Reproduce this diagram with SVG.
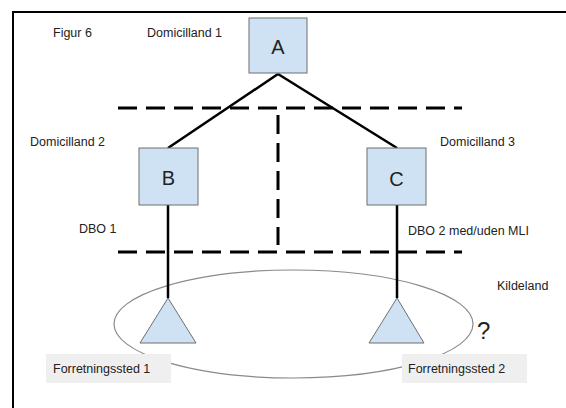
<svg xmlns="http://www.w3.org/2000/svg" width="566" height="408" viewBox="0 0 566 408">
  <style>
    .lbl { font-family: "Liberation Sans", Arial, sans-serif; font-size: 12.5px; fill: #222; }
    .big { font-family: "Liberation Sans", Arial, sans-serif; font-size: 20px; fill: #222; text-anchor: middle; }
    .box { fill: #cfe2f3; stroke: #6f6f6f; stroke-width: 1; }
    .tag { fill: #efefef; stroke: none; }
    .edge { stroke: #000; stroke-width: 2.5; fill: none; }
    .dash { stroke: #000; stroke-width: 3; fill: none; stroke-dasharray: 19 9; }
  </style>
  <rect width="566" height="408" fill="#fff"/>
  <!-- frame (top and left edges) -->
  <path d="M566 12 H13 V408" stroke="#000" stroke-width="2" fill="none"/>

  <!-- source country region -->
  <ellipse cx="293.5" cy="324" rx="179.5" ry="54" fill="none" stroke="#8a8a8a" stroke-width="1.2"/>

  <g id="connectors">
    <path class="edge" d="M278 74 L168 148"/>
    <path class="edge" d="M278 74 L397 148"/>
    <path class="edge" d="M168 205 V298"/>
    <path class="edge" d="M397 205 V298"/>
    <path class="dash" d="M118 108 H462"/>
    <path class="dash" d="M278 115 V245"/>
    <path class="dash" d="M118 252 H462"/>
  </g>

  <g id="nodeA">
    <rect class="box" x="249" y="18" width="58" height="55"/>
    <text class="big" x="278" y="54">A</text>
  </g>
  <g id="nodeB">
    <rect class="box" x="139" y="148" width="59" height="57"/>
    <text class="big" x="168.5" y="185">B</text>
  </g>
  <g id="nodeC">
    <rect class="box" x="367" y="148" width="59" height="57"/>
    <text class="big" x="396.5" y="186">C</text>
  </g>
  <g id="site1">
    <polygon class="box" points="168,298 196,343 140,343"/>
  </g>
  <g id="site2">
    <polygon class="box" points="397,298 424,343 369,343"/>
  </g>

  <g id="tag1">
    <rect class="tag" x="46" y="354" width="125" height="29"/>
    <text class="lbl" x="53" y="373">Forretningssted 1</text>
  </g>
  <g id="tag2">
    <rect class="tag" x="402" y="354" width="125" height="29"/>
    <text class="lbl" x="408" y="373">Forretningssted 2</text>
  </g>

  <g id="labels">
    <text class="lbl" x="53" y="37">Figur 6</text>
    <text class="lbl" x="147" y="37">Domicilland 1</text>
    <text class="lbl" x="30" y="146">Domicilland 2</text>
    <text class="lbl" x="440" y="146">Domicilland 3</text>
    <text class="lbl" x="79" y="233">DBO 1</text>
    <text class="lbl" x="408" y="235">DBO 2 med/uden MLI</text>
    <text class="lbl" x="497" y="290">Kildeland</text>
    <text class="lbl" x="477" y="339" style="font-size:24px">?</text>
  </g>
</svg>
